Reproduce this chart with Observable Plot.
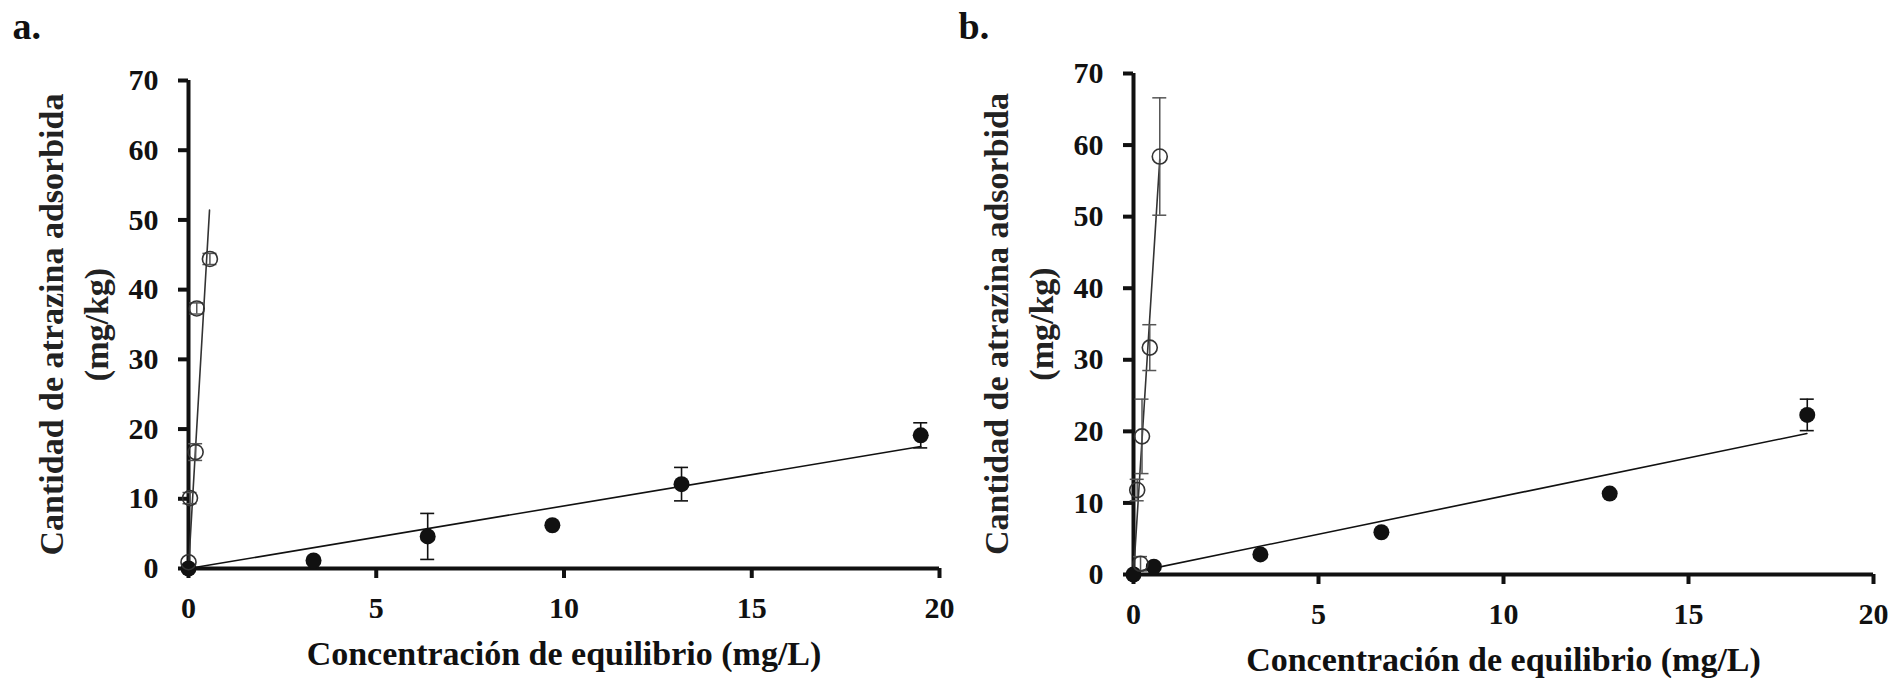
<!DOCTYPE html>
<html>
<head>
<meta charset="utf-8">
<script src="https://cdn.jsdelivr.net/npm/d3@7"></script>
<script src="https://cdn.jsdelivr.net/npm/@observablehq/plot@0.6"></script>
<style>
  html, body { margin: 0; padding: 0; background: #fff; }
  #wrap { position: relative; width: 1894px; height: 678px; overflow: hidden; background: #fff; }
  #wrap svg { position: absolute; top: 0; }
</style>
</head>
<body>
<div id="wrap"></div>
<script>
// ---------- shared labels / ticks ----------
const xTicks = [0, 5, 10, 15, 20];
const yTicks = [0, 10, 20, 30, 40, 50, 60, 70];
const yLabel1 = "Cantidad de atrazina adsorbida";
const yLabel2 = "(mg/kg)";
const xLabel = "Concentración de equilibrio (mg/L)";

// ---------- panel a ----------
const aFilledX   = [0, 3.33, 6.37, 9.69, 13.13, 19.5];
const aFilledY   = [0, 1.15, 4.6, 6.2, 12.1, 19.1];
const aFilledErr = [0, 0, 3.3, 0, 2.4, 1.8];
const aOpenX     = [0, 0.04, 0.19, 0.22, 0.57];
const aOpenY     = [0.9, 10.1, 16.7, 37.3, 44.4];
const aOpenErr   = [0, 0.8, 1.2, 0.8, 0.8];
const aFilledFitX = [0, 19.5];
const aFilledFitY = [0, 17.5];
const aOpenFitX   = [0, 0.56];
const aOpenFitY   = [0, 51.4];

// ---------- panel b ----------
const bFilledX   = [0, 0.55, 3.43, 6.7, 12.87, 18.21];
const bFilledY   = [0, 1.1, 2.8, 5.9, 11.3, 22.3];
const bFilledErr = [0, 0, 0, 0, 0, 2.2];
const bOpenX     = [0.19, 0.1, 0.23, 0.44, 0.71];
const bOpenY     = [1.5, 11.8, 19.3, 31.7, 58.4];
const bOpenErr   = [1.0, 1.5, 5.2, 3.2, 8.2];
const bFilledFitX = [0, 18.2];
const bFilledFitY = [0.3, 19.7];
const bOpenFitX   = [0, 0.71];
const bOpenFitY   = [0, 58];

function table(X, Y, E) {
  return X.map((x, i) => ({x, y: Y[i], e: E ? E[i] : 0}));
}

function panel(cfg) {
  const filled = table(cfg.fX, cfg.fY, cfg.fE);
  const open = table(cfg.oX, cfg.oY, cfg.oE);
  const fFit = table(cfg.ffX, cfg.ffY);
  const oFit = table(cfg.ofX, cfg.ofY);
  const fErr = filled.filter(d => d.e > 0);
  const oErr = open.filter(d => d.e > 0);
  const ink = "#111";
  const grey = "#555";
  return Plot.plot({
    width: cfg.width,
    height: 678,
    marginLeft: cfg.ml,
    marginRight: cfg.mr,
    marginTop: cfg.mt,
    marginBottom: cfg.mb,
    style: {fontFamily: "'Liberation Serif', 'Times New Roman', serif", fontSize: "30px", fontWeight: "bold", color: ink, background: "transparent", overflow: "visible"},
    x: {domain: [0, 20]},
    y: {domain: [0, 70]},
    marks: [
      Plot.axisX({ticks: xTicks, tickSize: 10, tickPadding: 18, strokeWidth: 4, label: null, tickFormat: d => String(d)}),
      Plot.axisY({ticks: yTicks, tickSize: 10, tickPadding: 20, strokeWidth: 4, label: null, tickFormat: d => String(d)}),
      Plot.ruleX([0], {stroke: ink, strokeWidth: 4}),
      Plot.ruleY([0], {stroke: ink, strokeWidth: 4}),
      Plot.line(fFit, {x: "x", y: "y", stroke: ink, strokeWidth: 1.6}),
      Plot.line(oFit, {x: "x", y: "y", stroke: "#333", strokeWidth: 1.6}),
      Plot.ruleX(oErr, {x: "x", y1: d => d.y - d.e, y2: d => d.y + d.e, stroke: grey, strokeWidth: 1.5}),
      Plot.ruleY(oErr, {x1: "x", x2: "x", y: d => d.y + d.e, insetLeft: -7, insetRight: -7, stroke: grey, strokeWidth: 1.5}),
      Plot.ruleY(oErr, {x1: "x", x2: "x", y: d => d.y - d.e, insetLeft: -7, insetRight: -7, stroke: grey, strokeWidth: 1.5}),
      Plot.ruleX(fErr, {x: "x", y1: d => d.y - d.e, y2: d => d.y + d.e, stroke: ink, strokeWidth: 1.6}),
      Plot.ruleY(fErr, {x1: "x", x2: "x", y: d => d.y + d.e, insetLeft: -7, insetRight: -7, stroke: ink, strokeWidth: 1.6}),
      Plot.ruleY(fErr, {x1: "x", x2: "x", y: d => d.y - d.e, insetLeft: -7, insetRight: -7, stroke: ink, strokeWidth: 1.6}),
      Plot.dot(filled, {x: "x", y: "y", r: 8, fill: ink, stroke: null}),
      Plot.dot(open, {x: "x", y: "y", r: 7.5, fill: "none", stroke: "#333", strokeWidth: 1.6}),
      Plot.text([yLabel1], {frameAnchor: "left", dx: -136, rotate: -90, textAnchor: "middle", lineAnchor: "middle", fontSize: 34, fontWeight: "bold", fill: "#222"}),
      Plot.text([yLabel2], {frameAnchor: "left", dx: -91, rotate: -90, textAnchor: "middle", lineAnchor: "middle", fontSize: 34, fontWeight: "bold", fill: "#222"}),
      Plot.text([xLabel], {frameAnchor: "bottom", dy: 86, textAnchor: "middle", lineAnchor: "middle", fontSize: 34, fontWeight: "bold", fill: ink}),
      Plot.text([cfg.letter], {frameAnchor: "top-left", dx: cfg.ldx, dy: cfg.ldy, textAnchor: "start", lineAnchor: "middle", fontSize: 38, fontWeight: "bold", fill: ink})
    ]
  });
}

const wrap = document.getElementById("wrap");

const pa = panel({
  letter: "a.", width: 960, ml: 188, mr: 21, mt: 80, mb: 110,
  fX: aFilledX, fY: aFilledY, fE: aFilledErr,
  oX: aOpenX, oY: aOpenY, oE: aOpenErr,
  ffX: aFilledFitX, ffY: aFilledFitY, ofX: aOpenFitX, ofY: aOpenFitY,
  ldx: -176, ldy: -54
});
pa.style.left = "0px";
wrap.appendChild(pa);

const pb = panel({
  letter: "b.", width: 954, ml: 193, mr: 21, mt: 73, mb: 104,
  fX: bFilledX, fY: bFilledY, fE: bFilledErr,
  oX: bOpenX, oY: bOpenY, oE: bOpenErr,
  ffX: bFilledFitX, ffY: bFilledFitY, ofX: bOpenFitX, ofY: bOpenFitY,
  ldx: -175, ldy: -47
});
pb.style.left = "940px";
wrap.appendChild(pb);
</script>
</body>
</html>
